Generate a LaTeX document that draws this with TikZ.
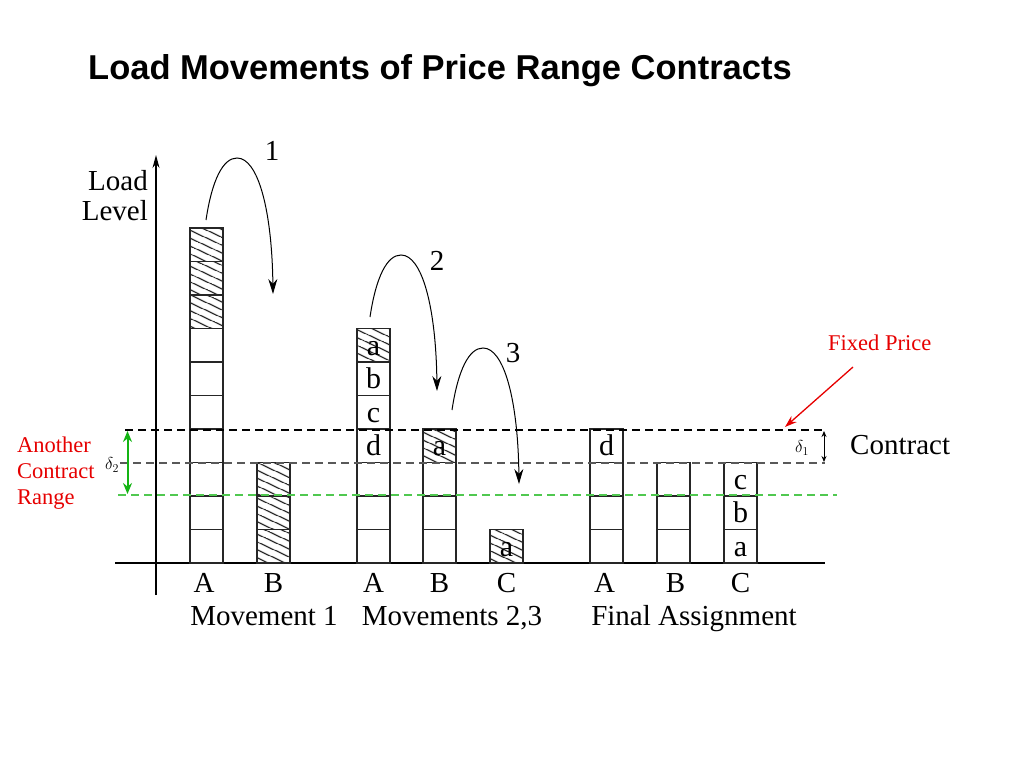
\documentclass[tikz,border=0pt]{standalone}
\usepackage{fontspec}
\setmainfont{Liberation Serif}
\newfontfamily\titlefont{Liberation Sans}
\usetikzlibrary{arrows.meta,patterns.meta}
\definecolor{pricered}{RGB}{230,0,0}
\definecolor{rangegreen}{RGB}{20,180,20}
\definecolor{limitgreen}{RGB}{80,200,80}

\begin{document}
\begin{tikzpicture}[x=1pt,y=-1pt,
    unit/.style={draw=black!85,line width=1.2pt,minimum width=33pt,minimum height=33.5pt,
      inner sep=0pt,outer sep=0pt,text height=19.5pt,text depth=0pt,font=\fontsize{30}{32}\selectfont},
    hatched/.style={unit,pattern={Lines[angle=-25,distance=6.5pt,line width=1.1pt]}},
    lbl/.style={font=\fontsize{29}{32}\selectfont,anchor=base,inner sep=0pt},
    redlbl/.style={font=\fontsize{22.5}{26}\selectfont,text=pricered,anchor=base west,inner sep=0pt},
    move/.style={line width=1pt,-{Stealth[length=15pt,width=9pt]}},
    level/.style={line width=1.2pt,dash pattern=on 8pt off 5pt}]
  \useasboundingbox (0,0) rectangle (1024,768);

  % title
  \node[anchor=base west,inner sep=0pt,font=\titlefont\bfseries\fontsize{34.5}{38}\selectfont] (title) at (88,79) {Load Movements of Price Range Contracts};

  % axes
  \coordinate (yfoot) at (156,595);
  \coordinate (ytop) at (156,155);
  \coordinate (xleft) at (115,563);
  \coordinate (xright) at (825,563);
  \draw[line width=1.2pt,-{Stealth[length=13pt,width=7pt]}] (yfoot) -- (ytop);
  \draw[line width=1.2pt] (xleft) -- (xright);
  \node[lbl,anchor=base east] (load) at (148,190) {Load};
  \node[lbl,anchor=base east] (levl) at (148,220) {Level};

  % movement 1
  \foreach \i in {1,...,7}
    \node[unit] (mA\i) at (206.5,{563-33.5*(\i-0.5)}) {};
  \foreach \i in {8,9,10}
    \node[hatched] (mA\i) at (206.5,{563-33.5*(\i-0.5)}) {};
  \foreach \i in {1,2,3}
    \node[hatched] (mB\i) at (273.5,{563-33.5*(\i-0.5)}) {};

  % movements 2,3
  \foreach \i/\t in {1/,2/,3/,4/d,5/c,6/b}
    \node[unit] (nA\i) at (373.5,{563-33.5*(\i-0.5)}) {\t};
  \node[hatched] (nA7) at (373.5,{563-33.5*6.5}) {a};
  \foreach \i in {1,2,3}
    \node[unit] (nB\i) at (439.5,{563-33.5*(\i-0.5)}) {};
  \node[hatched] (nB4) at (439.5,{563-33.5*3.5}) {a};
  \node[hatched] (nC1) at (506.5,{563-33.5*0.5}) {a};

  % final assignment
  \foreach \i/\t in {1/,2/,3/,4/d}
    \node[unit] (fA\i) at (606.5,{563-33.5*(\i-0.5)}) {\t};
  \foreach \i in {1,2,3}
    \node[unit] (fB\i) at (673.5,{563-33.5*(\i-0.5)}) {};
  \foreach \i/\t in {1/a,2/b,3/c}
    \node[unit] (fC\i) at (740.5,{563-33.5*(\i-0.5)}) {\t};

  % column labels
  \foreach \x/\t [count=\k] in {204/A,273.5/B,373.5/A,439.5/B,506.5/C,604.5/A,675.5/B,740.5/C}
    \node[lbl] (col\k) at (\x,592) {\t};
  \node[lbl] (mov1) at (264,625) {Movement 1};
  \node[lbl] (mov23) at (452,625) {Movements 2,3};
  \node[lbl] (final) at (694,625) {Final Assignment};

  % contract levels
  \coordinate (topL) at (125,430);
  \coordinate (topR) at (825,430);
  \coordinate (midL) at (120,463);
  \coordinate (midR) at (825,463);
  \coordinate (lowL) at (118,495);
  \coordinate (lowR) at (837,495);
  \draw[level,black] (topL) -- (topR);
  \draw[level,black!65] (midL) -- (midR);
  \draw[level,limitgreen] (lowL) -- (lowR);
  \draw[line width=2pt,rangegreen,{Stealth[length=11pt,width=9pt]}-{Stealth[length=11pt,width=9pt]}] (127.5,431) -- (127.5,494);
  \draw[line width=0.9pt,{Stealth[length=6pt,width=5pt]}-{Stealth[length=6pt,width=5pt]}] (824,431) -- (824,462);
  \node[inner sep=0pt,font=\fontsize{17}{18}\selectfont] (d2) at (112,465) {$\delta_2$};
  \node[inner sep=0pt,font=\fontsize{17}{18}\selectfont] (d1) at (802,448) {$\delta_1$};
  \node[lbl,anchor=base west] (contract) at (850,454) {Contract};

  % red notes
  \node[redlbl] (fixed) at (828,350) {Fixed Price};
  \coordinate (fixtail) at (853,367);
  \coordinate (fixtip) at (785,427);
  \draw[pricered,line width=1.3pt,-{Stealth[length=12pt,width=8pt]}] (fixtail) -- (fixtip);
  \node[redlbl] (another) at (17,452) {Another};
  \node[redlbl] (acontract) at (17,478) {Contract};
  \node[redlbl] (arange) at (17,504) {Range};

  % movement arrows
  \foreach \n/\sx/\sy in {1/206/220,2/370/317,3/452/410} {
    \coordinate (s\n) at (\sx,\sy);
    \coordinate (p\n) at ({\sx+31},{\sy-62});
    \coordinate (e\n) at ({\sx+67},{\sy+74});
    \draw[move] (s\n) .. controls ({\sx+6},{\sy-40}) and ({\sx+17},{\sy-62}) .. (p\n)
      .. controls ({\sx+52},{\sy-62}) and ({\sx+66},{\sy-10}) .. (e\n);
  }
  \node[lbl] (num1) at (272,160) {1};
  \node[lbl] (num2) at (437,270) {2};
  \node[lbl] (num3) at (513,362) {3};
\end{tikzpicture}
\end{document}
